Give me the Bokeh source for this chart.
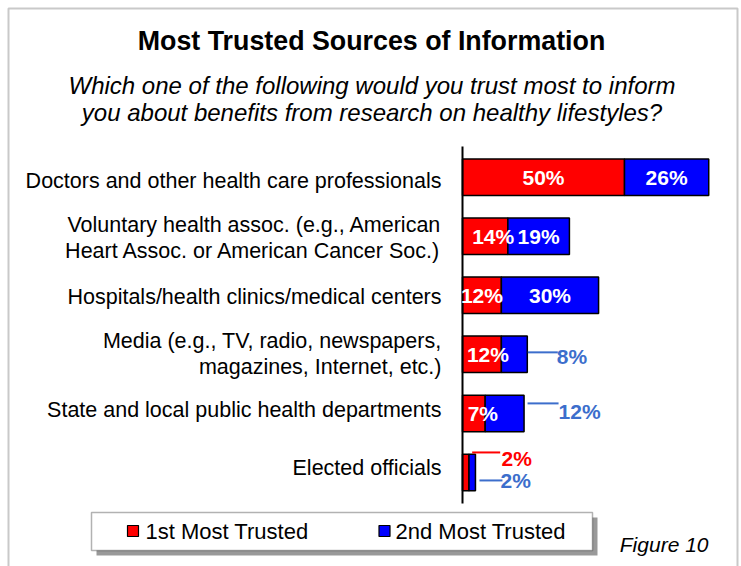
from bokeh.plotting import figure
from bokeh.models import ColumnDataSource, Range1d, Label, BoxAnnotation
from bokeh.core.properties import value
from bokeh.embed import file_html
from bokeh.resources import INLINE

# ---------------- data ----------------
categories = [
    "Doctors and other health care professionals",
    "Voluntary health assoc. (e.g., American\nHeart Assoc. or American Cancer Soc.)",
    "Hospitals/health clinics/medical centers",
    "Media (e.g., TV, radio, newspapers,\nmagazines, Internet, etc.)",
    "State and local public health departments",
    "Elected officials",
]
first_trusted = [50, 14, 12, 12, 7, 2]
second_trusted = [26, 19, 30, 8, 12, 2]
series_names = ["1st Most Trusted", "2nd Most Trusted"]
title_text = "Most Trusted Sources of Information"
subtitle_lines = [
    "Which one of the following would you trust most to inform",
    "you about benefits from research on healthy lifestyles?",
]
figure_note = "Figure 10"

# which value labels sit inside their bar segment
first_inside = [True, True, True, True, True, False]
second_inside = [True, True, True, False, False, False]

# ---------------- layout helpers (pixel -> data) ----------------
W, H = 741, 566
AX = 462.0      # pixel x of the 0% axis
PXP = 3.24      # pixels per percent
ROW0 = 176.7    # pixel y of first row centre
ROWH = 59.05    # pixels between rows
FONT = "Liberation Sans"
RED = "#FF0000"
BLUE = "#0000FF"
CALL_BLUE = "#3C6ECC"


def X(px):
    return (px - AX) / PXP


def Y(py):
    return (py - ROW0) / ROWH


def DX(d):
    return d / PXP


def DY(d):
    return d / ROWH


p = figure(width=W, height=H,
           x_range=Range1d(X(0), X(W)), y_range=Range1d(Y(H), Y(0)),
           output_backend="svg", toolbar_location=None,
           x_axis_location=None, y_axis_location=None,
           min_border=0, min_border_left=0, min_border_right=0,
           min_border_top=0, min_border_bottom=0,
           outline_line_color=None, background_fill_color="white",
           border_fill_color="white")
p.grid.visible = False

# outer frame
p.add_layout(BoxAnnotation(left=X(8), right=X(737), top=Y(8), bottom=Y(720),
                           fill_color=None, line_color="#4d4d4d", line_width=2,
                           level="underlay"))

# ---------------- bars ----------------
n = len(categories)
rows = list(range(n))
cum = [a + b for a, b in zip(first_trusted, second_trusted)]
src = ColumnDataSource(dict(y=rows, f=first_trusted, s=second_trusted,
                            zero=[0] * n, cum=cum))
BAR_H = 36.5 / ROWH
p.hbar(y="y", left="zero", right="f", height=BAR_H, source=src,
       fill_color=RED, line_color="black", line_width=1.5)
p.hbar(y="y", left="f", right="cum", height=BAR_H, source=src,
       fill_color=BLUE, line_color="black", line_width=1.5)

# axis line
p.segment(x0=[0], y0=[Y(146)], x1=[0], y1=[Y(503)], line_color="black", line_width=2)

# category labels
label_nudge_px = [4, 2, 2, 0, -3, -4]
p.text(x=[X(441)] * n, y=rows, text=categories, text_align="right",
       y_offset=label_nudge_px,
       text_baseline="middle", text_font=value(FONT), text_font_size="21.5px",
       text_color="black", text_line_height=1.08)

# inside value labels
first_nudge_px = [0, 8, 0, 6, 9, 0]
lx, ly, lt, lo = [], [], [], []
for i in range(n):
    if first_inside[i]:
        lx.append(first_trusted[i] / 2); ly.append(i)
        lt.append(f"{first_trusted[i]}%"); lo.append(first_nudge_px[i])
    if second_inside[i]:
        lx.append(first_trusted[i] + second_trusted[i] / 2); ly.append(i)
        lt.append(f"{second_trusted[i]}%"); lo.append(0)
p.text(x=lx, y=ly, text=lt, x_offset=lo, text_align="center",
       text_baseline="middle", text_font=value(FONT), text_font_size="21px",
       text_font_style="bold", text_color="white")

# callout labels: (row, series, line start px from bar end, line length px,
#                  line dy px, text dx px from bar end, text dy px)
callouts = [
    (3, 1, 0.5, 30, -2, 29.5, 2),
    (4, 1, 3.5, 31, -10, 34.5, -2),
    (5, 0, 3.2, 28, -20, 32.5, -14),
    (5, 1, 4.0, 23, 8, 25.0, 8),
]
sx0, sx1, sy, tx, ty, tt, tc = [], [], [], [], [], [], []
for row, ser, l0, ll, ldy, tdx, tdy in callouts:
    end = first_trusted[row] if ser == 0 else cum[row]
    val = first_trusted[row] if ser == 0 else second_trusted[row]
    col = RED if ser == 0 else CALL_BLUE
    sx0.append(end + DX(l0)); sx1.append(end + DX(l0 + ll)); sy.append(row + DY(ldy))
    tx.append(end + DX(tdx)); ty.append(row + DY(tdy)); tt.append(f"{val}%"); tc.append(col)
p.segment(x0=sx0, y0=sy, x1=sx1, y1=sy, line_color=tc, line_width=2)
p.text(x=tx, y=ty, text=tt, text_color=tc, text_align="left",
       text_baseline="middle", text_font=value(FONT), text_font_size="21px",
       text_font_style="bold")

# ---------------- titles ----------------
p.add_layout(Label(x=X(371), y=Y(40), text=title_text, text_align="center",
                   text_baseline="middle", text_font=FONT, text_font_size="26.8px",
                   text_font_style="bold", text_color="black"))
for k, line in enumerate(subtitle_lines):
    p.add_layout(Label(x=X(371.5), y=Y(85 + 27 * k), text=line, text_align="center",
                       text_baseline="middle", text_font=FONT, text_font_size="24px",
                       text_font_style="italic", text_color="black"))

# ---------------- legend ----------------
p.add_layout(BoxAnnotation(left=X(96), right=X(597), top=Y(517), bottom=Y(555),
                           fill_color="black", line_color=None, level="underlay"))
p.add_layout(BoxAnnotation(left=X(91), right=X(592), top=Y(512), bottom=Y(550),
                           fill_color="white", fill_alpha=1.0, line_color="black",
                           line_width=1.5, level="underlay"))
p.scatter(x=[X(132.5), X(384)], y=[Y(530.5)] * 2, marker="square", size=11,
          fill_color=[RED, BLUE], line_color="black", line_width=1.2)
p.text(x=[X(145), X(395)], y=[Y(531)] * 2, text=series_names, text_align="left",
       text_baseline="middle", text_font=value(FONT), text_font_size="22px",
       text_color="black")

p.add_layout(Label(x=X(708), y=Y(544), text=figure_note, text_align="right",
                   text_baseline="middle", text_font=FONT, text_font_size="21px",
                   text_font_style="italic", text_color="black"))

open("out.html", "w").write(file_html(p, INLINE))
